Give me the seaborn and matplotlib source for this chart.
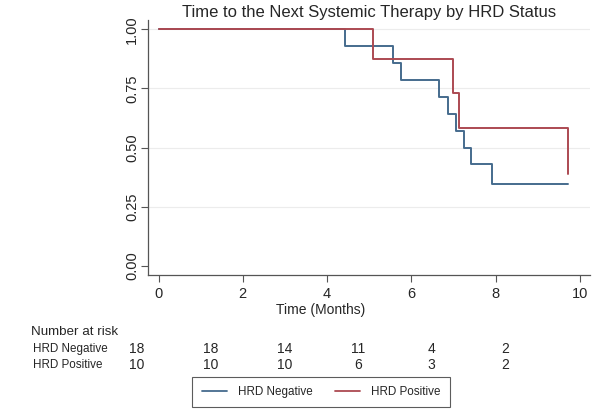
import matplotlib
matplotlib.use("Agg")
import matplotlib.pyplot as plt
import pandas as pd
import seaborn as sns

# Kaplan-Meier step points
NEG_TIME = [0, 4.42, 5.56, 5.75, 6.66, 6.88, 7.05, 7.25, 7.42, 7.92, 9.71]
NEG_SURV = [1.0, 0.929, 0.857, 0.786, 0.714, 0.643, 0.571, 0.500, 0.429, 0.344, 0.344]
POS_TIME = [0, 5.09, 6.98, 7.14, 9.72]
POS_SURV = [1.0, 0.875, 0.731, 0.583, 0.389]

GROUPS = ["HRD Negative", "HRD Positive"]
COLORS = ["#456b8d", "#ac4a52"]

RISK_TIMES = [0, 2, 4, 6, 8, 10]
RISK_NEG = [18, 18, 14, 11, 4, 2]
RISK_POS = [10, 10, 10, 6, 3, 2]

X_TICKS = [0, 2, 4, 6, 8, 10]
Y_TICKS = [0.0, 0.25, 0.5, 0.75, 1.0]

sns.set_style("white")
plt.rcParams["font.family"] = ["Liberation Sans", "DejaVu Sans"]

df = pd.concat([
    pd.DataFrame({"time": NEG_TIME, "surv": NEG_SURV, "group": GROUPS[0]}),
    pd.DataFrame({"time": POS_TIME, "surv": POS_SURV, "group": GROUPS[1]}),
])

fig = plt.figure(figsize=(6, 4.12), dpi=100)
ax = fig.add_axes([148 / 600, 1 - 275 / 412, 442 / 600, 255 / 412])

sns.lineplot(
    data=df, x="time", y="surv", hue="group", palette=dict(zip(GROUPS, COLORS)),
    estimator=None, sort=False, drawstyle="steps-post", linewidth=1.4,
    legend=False, ax=ax,
)

ax.set_xlim(-0.25, 10.24)
ax.set_ylim(-0.04, 1.04)
ax.set_xticks(X_TICKS)
ax.set_yticks(Y_TICKS)
ax.set_yticklabels([f"{v:.2f}" for v in Y_TICKS], rotation=90, va="center")
ax.tick_params(axis="both", labelsize=10.5, length=5, width=0.8, color="#555555",
               direction="out", left=True, bottom=True)
ax.tick_params(axis="y", pad=1.5)
for v in Y_TICKS[1:]:
    ax.axhline(v, color="#ececec", linewidth=0.8, zorder=0)
sns.despine(ax=ax)
for s in ["left", "bottom"]:
    ax.spines[s].set_color("#555555")
    ax.spines[s].set_linewidth(0.9)

ax.set_ylabel("")
ax.set_xlabel("Time (Months)", fontsize=10)
ax.xaxis.set_label_coords(0.39, -0.11)
ax.set_title("Time to the Next Systemic Therapy by HRD Status", fontsize=12,
             x=0.5, y=1.0, pad=2.5)

# number at risk table
tab = fig.add_axes([137 / 600, 1 - 372 / 412, 368 / 600, 50 / 412])
tab.set_xlim(0, 10)
tab.set_ylim(0, 50)
tab.axis("off")
tab.text(-2.87, 40, "Number at risk", fontsize=9.6, va="center", ha="left")
for y, label, counts in [(23, GROUPS[0], RISK_NEG), (7, GROUPS[1], RISK_POS)]:
    tab.text(-2.83, y, label, fontsize=8.4, va="center", ha="left")
    for t, n in zip(RISK_TIMES, counts):
        tab.text(t, y, str(n), fontsize=10, va="center", ha="center")

handles = [plt.Line2D([], [], color=c, linewidth=1.3) for c in COLORS]
leg = fig.legend(handles, GROUPS, loc="center", bbox_to_anchor=(321 / 600, 1 - 392 / 412),
                 ncol=2, frameon=True, fancybox=False, handlelength=2.2,
                 handletextpad=0.9, columnspacing=1.9, borderpad=0.8, fontsize=8.4)
leg.get_frame().set_edgecolor("#333333")
leg.get_frame().set_linewidth(0.8)

fig.savefig("out.png", dpi=100)
